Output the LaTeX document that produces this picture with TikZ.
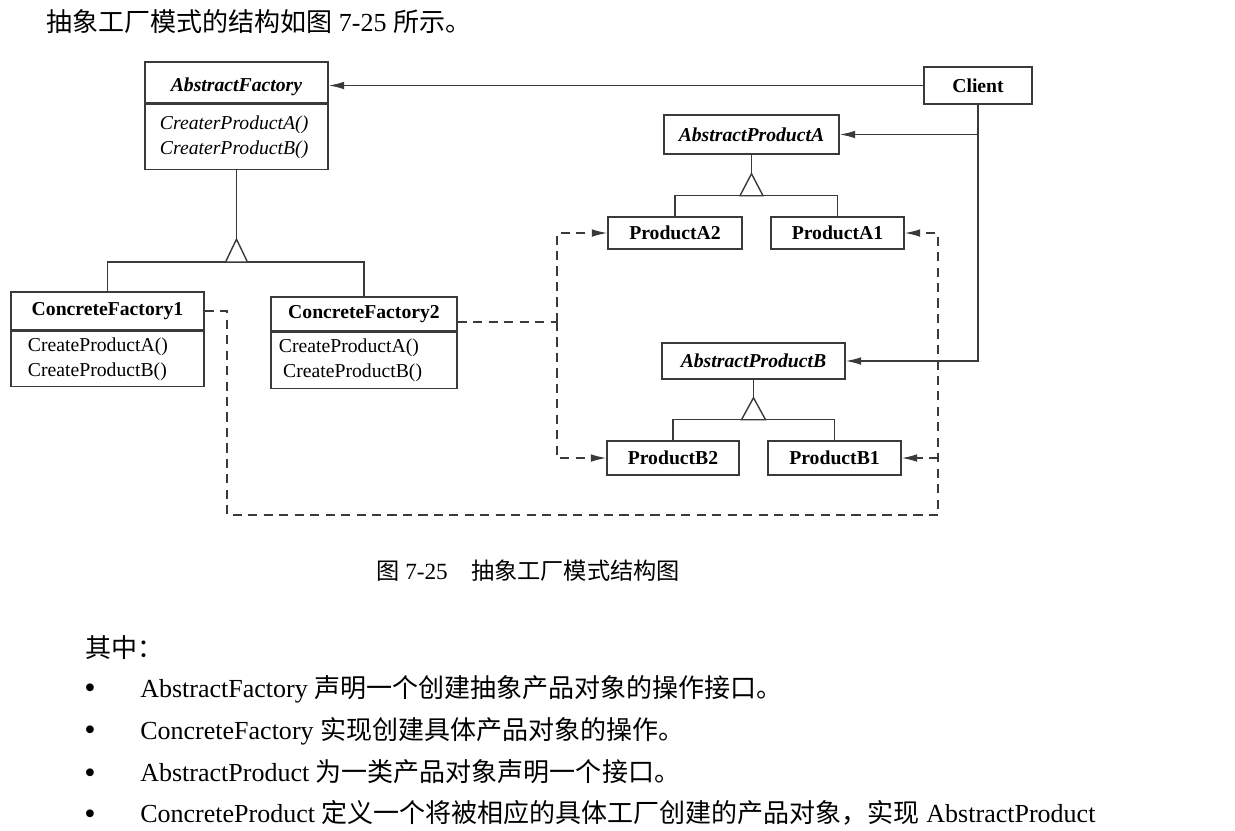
\documentclass[tikz,border=0pt]{standalone}
\usepackage{fontspec}
\setmainfont{Liberation Serif}
\newfontfamily\cjk{Noto Sans CJK SC}
\usetikzlibrary{arrows.meta, calc}
\definecolor{umlgray}{HTML}{3A3A3A}

\begin{document}
\begin{tikzpicture}[
    x=0.025cm, y=-0.025cm,
    cls/.style={draw=umlgray, line width=1pt, inner sep=0pt, align=center,
                font=\fontsize{14}{18}\selectfont\bfseries},
    ops/.style={draw=umlgray, line width=1pt, inner ysep=0pt, align=left,
                anchor=north, font=\fontsize{14}{18}\selectfont},
    link/.style={line width=1pt, umlgray},
    arr/.style={-{Latex[length=11pt, width=5.5pt]}},
    dep/.style={link, dash pattern=on 6.5pt off 4.5pt},
    body/.style={anchor=west, inner sep=0pt, font=\fontsize{18.5}{22}\selectfont},
    dot/.style={anchor=base, inner sep=0pt, font=\fontsize{23}{23}\selectfont}
  ]
    \useasboundingbox (0,0) rectangle (1235,830);

    \node[body] (intro) at (46,22)
      {{\cjk 抽象工厂模式的结构如图} 7-25 {\cjk 所示。}};

    % factory side
    \node[cls, minimum width=4.575cm, minimum height=1.025cm] (af) at (236.5,82.5)
      {\raisebox{-3pt}[\height][\depth]{\textit{AbstractFactory}}};
    \node[ops, text width=3.825cm, inner xsep=0.375cm, minimum height=1.625cm]
      (afm) at (af.south) {\textit{CreaterProductA()}\\\textit{CreaterProductB()}};
    \node[cls, minimum width=4.825cm, minimum height=0.95cm] (cf1h) at (107.5,311)
      {ConcreteFactory1};
    \node[ops, text width=3.975cm, inner xsep=0.425cm, minimum height=1.375cm]
      (cf1m) at (cf1h.south) {CreateProductA()\\CreateProductB()};
    \node[cls, minimum width=4.65cm, minimum height=0.85cm] (cf2h) at (364,314)
      {ConcreteFactory2};
    \node[ops, text width=4.25cm, inner xsep=0.2cm, minimum height=1.4cm]
      (cf2m) at (cf2h.south) {CreateProductA()\\\hspace{3pt}CreateProductB()};

    % client and products
    \node[cls, minimum width=2.7cm, minimum height=0.925cm] (cl) at (978,85.5) {Client};
    \node[cls, minimum width=4.375cm, minimum height=0.975cm] (apa) at (751.5,134.5)
      {\textit{AbstractProductA}};
    \node[cls, minimum width=3.35cm, minimum height=0.8cm] (pa2) at (675,233) {ProductA2};
    \node[cls, minimum width=3.325cm, minimum height=0.8cm] (pa1) at (837.5,233) {ProductA1};
    \node[cls, minimum width=4.575cm, minimum height=0.9cm] (apb) at (753.5,361)
      {\textit{AbstractProductB}};
    \node[cls, minimum width=3.3cm, minimum height=0.85cm] (pb2) at (673,458) {ProductB2};
    \node[cls, minimum width=3.325cm, minimum height=0.85cm] (pb1) at (834.5,458) {ProductB1};

    % inheritance
    \draw[link] (afm.south) -- ++(0,69) coordinate (afT);
    \draw[link] (cf1h.north) |- ($(afT)+(0,23)$) -| (cf2h.north);
    \draw[link, fill=white] (afT) -- ++(-11,23) -- ++(22,0) -- cycle;
    \draw[link] (apa.south) -- ++(0,19) coordinate (apaT);
    \draw[link] (pa2.north) |- ($(apaT)+(0,22)$) -| (pa1.north);
    \draw[link, fill=white] (apaT) -- ++(-11.5,22) -- ++(23,0) -- cycle;
    \draw[link] (apb.south) -- ++(0,18) coordinate (apbT);
    \draw[link] (pb2.north) |- ($(apbT)+(0,22)$) -| (pb1.north);
    \draw[link, fill=white] (apbT) -- ++(-12,22) -- ++(24,0) -- cycle;

    % client references
    \draw[link, arr] (cl.west) -- (cl.west -| af.east);
    \draw[link, arr] (cl.south) |- (apb.east);
    \draw[link, arr] (cl.south |- apa.east) -- (apa.east);

    % creates
    \coordinate (busL) at (557,322);
    \coordinate (c1) at (227,515);
    \coordinate (c2) at (938,515);
    \draw[dep] (cf2h.east |- busL) -- (busL);
    \draw[dep, arr] (busL) |- (pa2.west);
    \draw[dep, arr] (busL) |- (pb2.west);
    \draw[dep, arr] (cf1h.east) -| (c1) -- (c2) |- (pa1.east);
    \draw[dep, arr] (c2 |- pb1.east) -- (pb1.east);

    \node[anchor=west, inner sep=0pt, font=\fontsize{16.5}{20}\selectfont] (cap) at (376,571)
      {{\cjk 图} 7-25\hspace{1em}{\cjk 抽象工厂模式结构图}};

    % notes
    \node[body] (among) at (85,648) {\cjk 其中：};
    \node[body] (t1) at (140,689)
      {AbstractFactory {\cjk 声明一个创建抽象产品对象的操作接口。}};
    \node[body] (t2) at (140,731)
      {ConcreteFactory {\cjk 实现创建具体产品对象的操作。}};
    \node[body] (t3) at (140,772)
      {AbstractProduct {\cjk 为一类产品对象声明一个接口。}};
    \node[body] (t4) at (140,813)
      {ConcreteProduct {\cjk 定义一个将被相应的具体工厂创建的产品对象，实现} AbstractProduct};
    \node[dot] (b1) at ($(t1.base west)+(-50,1.5)$) {\textbullet};
    \node[dot] (b2) at ($(t2.base west)+(-50,1.5)$) {\textbullet};
    \node[dot] (b3) at ($(t3.base west)+(-50,1.5)$) {\textbullet};
    \node[dot] (b4) at ($(t4.base west)+(-50,1.5)$) {\textbullet};
  \end{tikzpicture}
\end{document}
